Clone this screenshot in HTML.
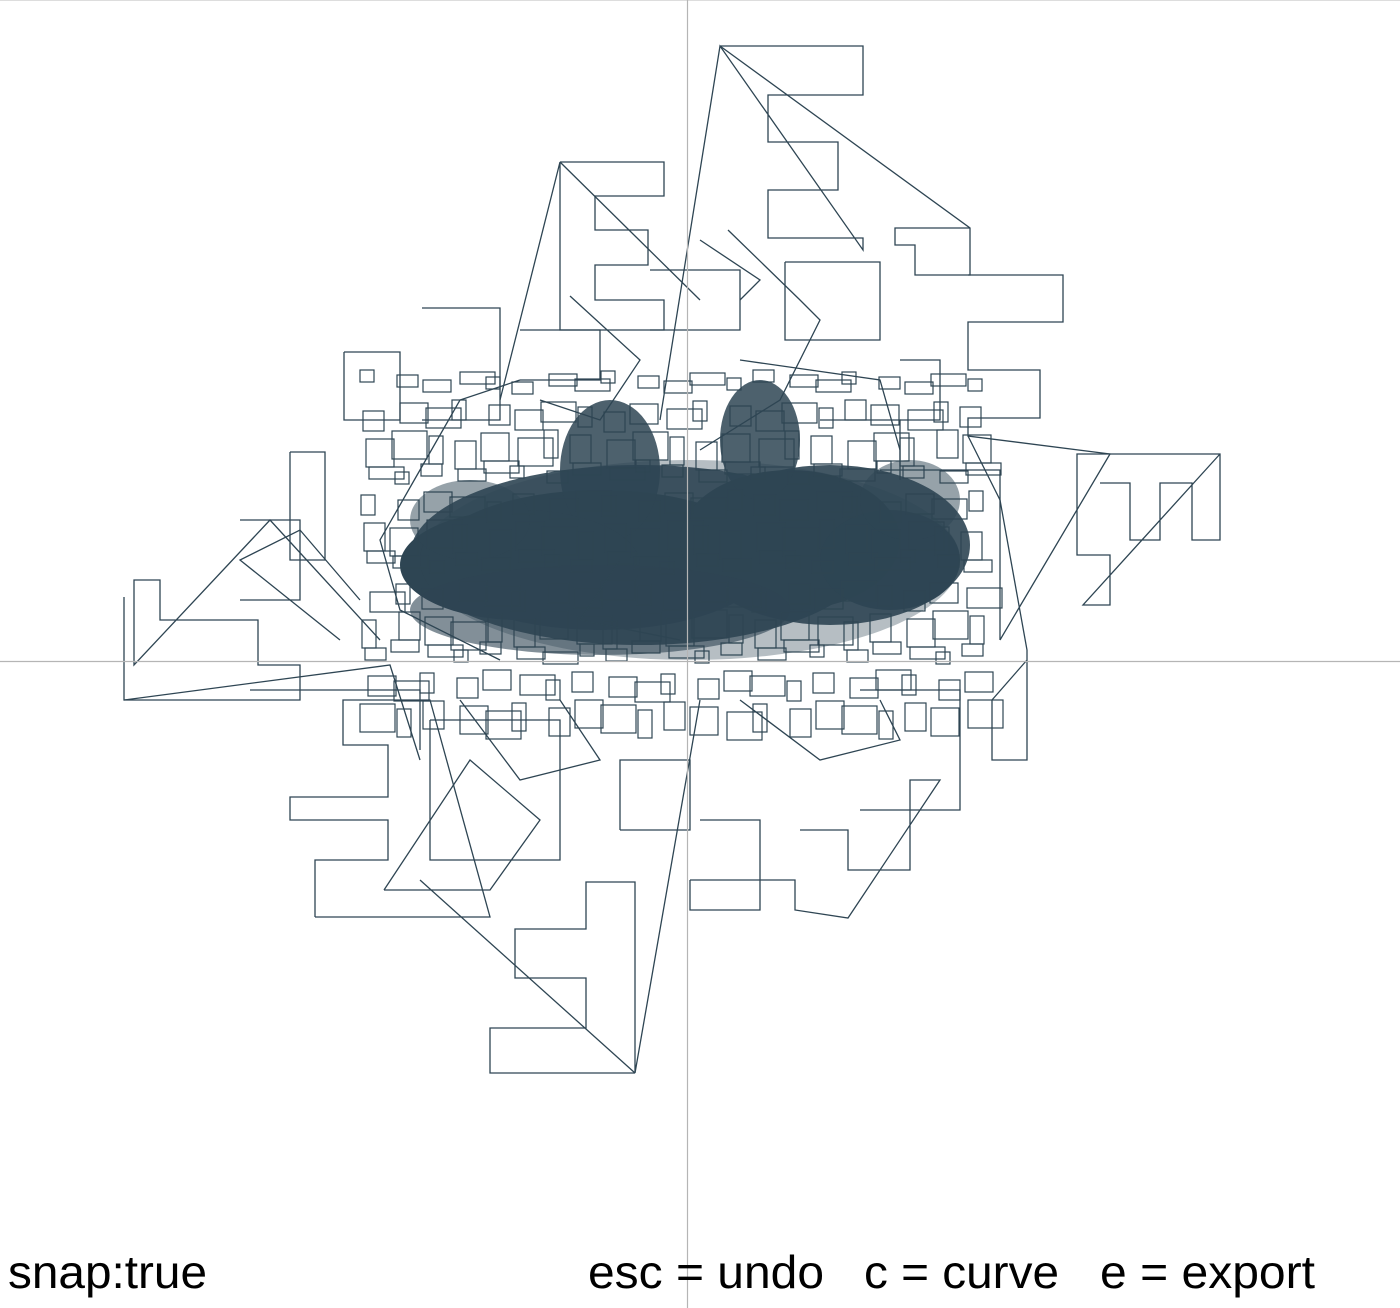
<!DOCTYPE html>
<html><head><meta charset="utf-8"><style>
html,body{margin:0;padding:0;background:#fff;}
svg{display:block;}
</style></head><body>
<svg width="1400" height="1308" viewBox="0 0 1400 1308">
<rect x="0" y="0" width="1400" height="1308" fill="#fff"/>
<line x1="0" y1="0.5" x2="1400" y2="0.5" stroke="#ddd"/>
<g id="blob"></g>
<g id="shapes" fill="none" stroke="#2e4553" stroke-width="1.3"></g>
<line x1="687.5" y1="0" x2="687.5" y2="1308" stroke="#b5b5b5" stroke-width="1.2"/>
<line x1="0" y1="661.5" x2="1400" y2="661.5" stroke="#b5b5b5" stroke-width="1.2"/>
<text x="8" y="1288" font-family="Liberation Sans, sans-serif" font-size="46" textLength="199" lengthAdjust="spacingAndGlyphs" fill="#000">snap:true</text>
<text x="588" y="1288" font-family="Liberation Sans, sans-serif" font-size="46" textLength="236" lengthAdjust="spacingAndGlyphs" fill="#000">esc = undo</text>
<text x="864" y="1288" font-family="Liberation Sans, sans-serif" font-size="46" textLength="195" lengthAdjust="spacingAndGlyphs" fill="#000">c = curve</text>
<text x="1100" y="1288" font-family="Liberation Sans, sans-serif" font-size="46" textLength="215" lengthAdjust="spacingAndGlyphs" fill="#000">e = export</text>
</svg>
<script>
const NS='http://www.w3.org/2000/svg';
const polylines=[
"720,46 863,46 863,95 768,95 768,142 838,142 838,190 768,190 768,238 863,238 863,250 720,46 660,420",
"720,46 970,228 970,275 915,275 915,245 895,245 895,228 970,228",
"560,162 664,162 664,196 595,196 595,230 648,230 648,265 595,265 595,300 664,300 664,330 560,330 560,162 500,400",
"560,162 700,300",
"635,1073 490,1073 490,1028 586,1028 586,978 515,978 515,929 586,929 586,882 635,882 635,1073 700,700",
"635,1073 420,880",
"315,917 315,860 388,860 388,820 290,820 290,797 388,797 388,745 343,745 343,700 430,700 490,917 315,917",
"1220,454 1083,605 1110,605 1110,555 1077,555 1077,454 1110,454 1220,454 1220,540 1192,540 1192,483 1160,483 1160,540 1130,540 1130,483 1100,483",
"968,275 1063,275 1063,322 968,322 968,370 1040,370 1040,418 968,418 968,436 1110,454 1000,640",
"124,597 124,700 300,700 300,665 258,665 258,620 160,620 160,580 134,580 134,665 270,520 380,640",
"124,700 390,665 420,760",
"344,352 400,352 400,420 344,420 344,352",
"422,308 500,308 500,420 422,420",
"290,452 325,452 325,560 290,560 290,452",
"690,880 795,880 795,910 848,918 940,780 910,780 910,870 848,870 848,830 800,830",
"690,880 690,910 760,910 760,820 700,820",
"968,436 1000,500 1027,650 1027,760 992,760 992,700 1027,660",
"384,890 490,890 540,820 470,760 384,890",
"620,830 690,830 690,760 620,760 620,830",
"650,270 740,270 740,330 650,330",
"785,262 880,262 880,340 785,340 785,262",
"430,720 560,720 560,860 430,860 430,720",
"860,690 960,690 960,810 860,810",
"250,690 420,690 420,750",
"240,520 300,520 300,600 240,600",
"900,360 940,360 940,420 900,420",
"880,470 1000,470 1000,640",
"500,660 400,610 380,540 420,470 460,400 520,380",
"340,640 240,560 300,530 360,600",
"728,230 800,300 820,320 780,400 700,450",
"570,296 640,360 600,420 540,400",
"740,360 880,380 900,450",
"620,560 580,620 680,640",
"460,700 520,780 600,760 560,700",
"740,700 820,760 900,740 880,700",
"700,240 760,280 740,300",
"520,330 600,330 600,380 520,380",
"820,420 900,420 900,480"
];
const g=document.getElementById('shapes');
for(const p of polylines){
  const el=document.createElementNS(NS,'polyline');
  el.setAttribute('points',p);
  
  
  g.appendChild(el);
}
const blobs=[
 [640,555,230,90,0.9],[830,545,140,80,0.9],[600,560,170,70,1],[790,540,110,70,1],
 [610,470,50,70,0.85],[760,440,40,60,0.85],[520,565,120,55,1],[890,560,70,50,0.9],
 [690,560,270,100,0.35],[600,610,190,45,0.6],[470,520,60,40,0.5],[910,500,50,40,0.5]
];
const b=document.getElementById('blob');
for(const [cx,cy,rx,ry,o] of blobs){
  const e=document.createElementNS(NS,'ellipse');
  e.setAttribute('cx',cx);e.setAttribute('cy',cy);e.setAttribute('rx',rx);e.setAttribute('ry',ry);
  e.setAttribute('fill','#2e4553');e.setAttribute('fill-opacity',o);
  
  
  b.appendChild(e);
}
const texX=[360,390,420,450,480,510,540,570,600,630,660,690,720,750,780,810,840,870,900,930,960];
const texY=[370,400,430,460,490,520,550,580,610,640,670,700];
for(let i=0;i<texX.length;i++){for(let j=0;j<texY.length;j++){
  const r=document.createElementNS(NS,'rect');
  r.setAttribute('x',texX[i]+((i*7+j*3)%11));r.setAttribute('y',texY[j]+((i*5+j*11)%13));
  r.setAttribute('width',14+((i+j)%4)*7);r.setAttribute('height',12+((i*3+j)%3)*8);
  r.setAttribute('fill','none');r.setAttribute('stroke','#2e4553');r.setAttribute('stroke-width','1.2');
  
  
  b.appendChild(r);
}}
</script>
</body></html>
